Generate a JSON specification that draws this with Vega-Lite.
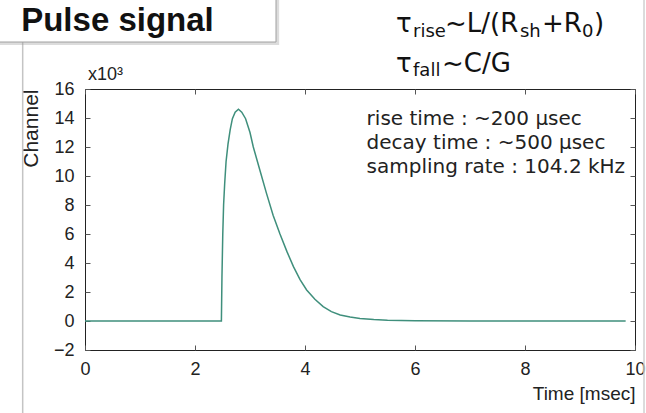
{
  "$schema": "https://vega.github.io/schema/vega-lite/v6.json",
  "width": 550,
  "height": 261,
  "autosize": {"type": "none"},
  "padding": {"left": 85, "top": 89, "right": 11, "bottom": 63},
  "background": "white",
  "config": {
    "view": {"stroke": "#222", "strokeWidth": 1},
    "font": "Liberation Sans",
    "axis": {
      "labelFont": "Liberation Sans",
      "titleFont": "Liberation Sans",
      "grid": false,
      "domain": false,
      "tickColor": "#555",
      "tickSize": -5,
      "labelColor": "#222",
      "titleColor": "#222",
      "titleFontWeight": "normal"
    }
  },
  "datasets": {
    "pulse": [
      {"t": 0, "v": 0}, {"t": 2.48, "v": 0}, {"t": 2.49, "v": 3.0}, {"t": 2.505, "v": 6.0},
      {"t": 2.52, "v": 8.0}, {"t": 2.54, "v": 9.5}, {"t": 2.565, "v": 11.0}, {"t": 2.6, "v": 12.2},
      {"t": 2.64, "v": 13.2}, {"t": 2.68, "v": 13.95}, {"t": 2.73, "v": 14.4}, {"t": 2.79, "v": 14.6},
      {"t": 2.85, "v": 14.4}, {"t": 2.92, "v": 13.95}, {"t": 3.0, "v": 13.0}, {"t": 3.06, "v": 12.0},
      {"t": 3.18, "v": 10.4}, {"t": 3.3, "v": 8.8}, {"t": 3.42, "v": 7.3}, {"t": 3.545, "v": 6.0},
      {"t": 3.67, "v": 4.8}, {"t": 3.79, "v": 3.75}, {"t": 3.91, "v": 2.85}, {"t": 4.03, "v": 2.14},
      {"t": 4.18, "v": 1.5}, {"t": 4.33, "v": 0.99}, {"t": 4.48, "v": 0.65}, {"t": 4.64, "v": 0.41},
      {"t": 4.82, "v": 0.27}, {"t": 5.0, "v": 0.18}, {"t": 5.25, "v": 0.1}, {"t": 5.5, "v": 0.05},
      {"t": 6.0, "v": 0.02}, {"t": 7.0, "v": 0.0}, {"t": 9.83, "v": 0.0}
    ],
    "notes": [
      {"x": 5.12, "y": 13.52, "text": "rise time : ~200 µsec"},
      {"x": 5.12, "y": 11.86, "text": "decay time : ~500 µsec"},
      {"x": 5.12, "y": 10.21, "text": "sampling rate : 104.2 kHz"}
    ],
    "formula": [
      {"x": 5.655, "y": 19.93, "text": "τ"},
      {"x": 6.545, "y": 19.93, "text": "~L/(R"},
      {"x": 8.309, "y": 19.93, "text": "+R"},
      {"x": 9.255, "y": 19.93, "text": ")"},
      {"x": 5.655, "y": 17.17, "text": "τ"},
      {"x": 6.49, "y": 17.17, "text": "~C/G"}
    ],
    "formulaSub": [
      {"x": 5.964, "y": 19.59, "text": "rise"},
      {"x": 7.909, "y": 19.59, "text": "sh"},
      {"x": 9.036, "y": 19.59, "text": "0"},
      {"x": 5.964, "y": 16.9, "text": "fall"}
    ],
    "one": [{}]
  },
  "resolve": {"axis": {"x": "independent", "y": "independent"}},
  "layer": [
    {
      "data": {"name": "one"},
      "mark": {"type": "rule", "color": "#c4c4c4", "strokeWidth": 1.5},
      "encoding": {
        "x": {"datum": -1.133, "type": "quantitative", "axis": null},
        "y": {"datum": 19.24, "type": "quantitative", "axis": null},
        "y2": {"datum": -6.5}
      }
    },
    {
      "data": {"name": "one"},
      "mark": {"type": "rule", "color": "#d0d0d0", "strokeWidth": 1.5},
      "encoding": {
        "x": {"datum": 10.164, "type": "quantitative", "axis": null},
        "y": {"datum": 22.5, "type": "quantitative", "axis": null},
        "y2": {"datum": -6.5}
      }
    },
    {
      "data": {"name": "one"},
      "mark": {"type": "rect", "fill": "#9a9a9a", "opacity": 0.35},
      "encoding": {
        "x": {"datum": -1.6, "type": "quantitative", "axis": null},
        "x2": {"datum": 3.53},
        "y": {"datum": 22.5, "type": "quantitative", "axis": null},
        "y2": {"datum": 19.03}
      }
    },
    {
      "data": {"name": "one"},
      "mark": {"type": "rect", "fill": "white", "stroke": "#a0a0a0", "strokeWidth": 1},
      "encoding": {
        "x": {"datum": -1.7, "type": "quantitative", "axis": null},
        "x2": {"datum": 3.473},
        "y": {"datum": 22.5, "type": "quantitative", "axis": null},
        "y2": {"datum": 19.24}
      }
    },
    {
      "data": {"name": "one"},
      "mark": {"type": "text", "align": "left", "baseline": "alphabetic", "fontSize": 33, "fontWeight": "bold", "color": "#111", "font": "Liberation Sans"},
      "encoding": {
        "x": {"datum": -1.16, "type": "quantitative", "axis": null},
        "y": {"datum": 20.0, "type": "quantitative", "axis": null},
        "text": {"value": "Pulse signal"}
      }
    },
    {
      "data": {"name": "pulse"},
      "mark": {"type": "line", "color": "#3f8f7c", "strokeWidth": 1.5},
      "encoding": {
        "x": {
          "field": "t", "type": "quantitative",
          "scale": {"domain": [0, 10], "nice": false, "zero": false},
          "axis": {"orient": "bottom", "values": [0, 2, 4, 6, 8, 10], "labelFontSize": 18, "labelPadding": 15, "labelFlush": false,
                   "title": "Time [msec]", "titleFontSize": 19, "titleAnchor": "end", "titlePadding": 6}
        },
        "y": {
          "field": "v", "type": "quantitative",
          "scale": {"domain": [-2, 16], "nice": false, "zero": false},
          "axis": {"orient": "left", "values": [-2, 0, 2, 4, 6, 8, 10, 12, 14, 16], "labelFontSize": 18, "labelPadding": 16, "labelFlush": false,
                   "title": "Channel", "titleFontSize": 21, "titleAnchor": "end", "titlePadding": 12}
        }
      }
    },
    {
      "data": {"name": "pulse"},
      "mark": {"type": "point", "opacity": 0},
      "encoding": {
        "x": {"field": "t", "type": "quantitative",
              "axis": {"orient": "top", "values": [0, 2, 4, 6, 8, 10], "labels": false, "title": null}},
        "y": {"field": "v", "type": "quantitative",
              "axis": {"orient": "right", "values": [-2, 0, 2, 4, 6, 8, 10, 12, 14, 16], "labels": false, "title": null}}
      }
    },
    {
      "data": {"name": "notes"},
      "mark": {"type": "text", "align": "left", "baseline": "alphabetic", "fontSize": 20, "font": "DejaVu Sans", "color": "#222"},
      "encoding": {
        "x": {"field": "x", "type": "quantitative", "axis": null},
        "y": {"field": "y", "type": "quantitative", "axis": null},
        "text": {"field": "text"}
      }
    },
    {
      "data": {"name": "formula"},
      "mark": {"type": "text", "align": "left", "baseline": "alphabetic", "fontSize": 26, "font": "DejaVu Sans", "color": "#111"},
      "encoding": {
        "x": {"field": "x", "type": "quantitative", "axis": null},
        "y": {"field": "y", "type": "quantitative", "axis": null},
        "text": {"field": "text"}
      }
    },
    {
      "data": {"name": "formulaSub"},
      "mark": {"type": "text", "align": "left", "baseline": "alphabetic", "fontSize": 18, "font": "DejaVu Sans", "color": "#111"},
      "encoding": {
        "x": {"field": "x", "type": "quantitative", "axis": null},
        "y": {"field": "y", "type": "quantitative", "axis": null},
        "text": {"field": "text"}
      }
    },
    {
      "data": {"name": "one"},
      "mark": {"type": "text", "align": "left", "baseline": "alphabetic", "fontSize": 18, "color": "#222"},
      "encoding": {
        "x": {"datum": 0.055, "type": "quantitative", "axis": null},
        "y": {"datum": 16.62, "type": "quantitative", "axis": null},
        "text": {"value": "x10³"}
      }
    }
  ]
}
